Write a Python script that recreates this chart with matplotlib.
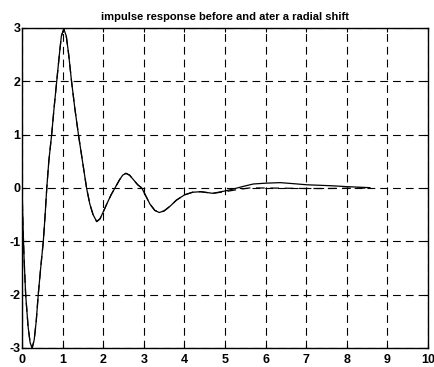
import matplotlib
matplotlib.use("Agg")
import matplotlib.pyplot as plt

# impulse response
t_before = [0, 0.02, 0.05, 0.09, 0.15, 0.2, 0.25, 0.3, 0.35, 0.4, 0.46, 0.525,
            0.57, 0.61, 0.66, 0.73, 0.79, 0.855, 0.92, 0.97, 1.03, 1.09, 1.15,
            1.22, 1.3, 1.39, 1.49, 1.59, 1.67, 1.75, 1.84, 1.92, 2.0, 2.1, 2.2,
            2.29, 2.4, 2.48, 2.56, 2.65, 2.75, 2.85, 2.95, 3.05, 3.15, 3.27,
            3.38, 3.5, 3.65, 3.8, 4.0, 4.2, 4.4, 4.7, 5.04, 5.3, 5.45, 5.7,
            6.0, 6.36, 6.7, 7.01, 7.35, 7.67, 8.0, 8.3, 8.57]
y_before = [0, -0.6, -1.3, -2.0, -2.6, -2.9, -3.0, -2.85, -2.5, -2.0, -1.5, -1.0,
            -0.5, 0.0, 0.5, 1.0, 1.5, 2.0, 2.5, 2.85, 2.98, 2.85, 2.5,
            2.0, 1.5, 1.0, 0.5, 0.0, -0.3, -0.5, -0.63, -0.58, -0.45, -0.28, -0.12,
            0.0, 0.15, 0.24, 0.275, 0.24, 0.15, 0.06, 0.0, -0.15, -0.3, -0.42,
            -0.46, -0.43, -0.34, -0.23, -0.13, -0.08, -0.07, -0.1, -0.05, 0.0, 0.03, 0.075,
            0.09, 0.1, 0.08, 0.06, 0.05, 0.04, 0.025, 0.015, 0.006]

t_after = [0, 0.02, 0.05, 0.09, 0.15, 0.2, 0.25, 0.3, 0.35, 0.4, 0.46, 0.525,
           0.57, 0.61, 0.66, 0.73, 0.79, 0.855, 0.92, 0.97, 1.03, 1.09, 1.15,
           1.22, 1.3, 1.39, 1.49, 1.59, 1.67, 1.75, 1.84, 1.92, 2.0, 2.1, 2.2,
           2.29, 2.4, 2.48, 2.56, 2.65, 2.75, 2.85, 2.95, 3.05, 3.15, 3.27,
           3.38, 3.5, 3.65, 3.8, 4.0, 4.2, 4.4, 4.7, 5.0, 5.3, 5.6, 6.0,
           6.5, 7.0, 7.5, 8.0, 8.57]
y_after = [0, -0.6, -1.3, -2.0, -2.6, -2.9, -3.0, -2.85, -2.5, -2.0, -1.5, -1.0,
           -0.5, 0.0, 0.5, 1.0, 1.5, 2.0, 2.5, 2.85, 2.98, 2.85, 2.5,
           2.0, 1.5, 1.0, 0.5, 0.0, -0.3, -0.5, -0.63, -0.58, -0.45, -0.28, -0.12,
           0.0, 0.15, 0.24, 0.275, 0.24, 0.15, 0.06, 0.0, -0.15, -0.3, -0.42,
           -0.46, -0.43, -0.34, -0.23, -0.13, -0.08, -0.07, -0.1, -0.07, -0.03, 0.0, 0.0,
           -0.005, -0.01, -0.01, -0.005, 0.0]

x_ticks = list(range(0, 11))
y_ticks = list(range(-3, 4))

plt.rcParams["font.family"] = ["Liberation Sans", "DejaVu Sans"]
plt.rcParams["axes.unicode_minus"] = False

fig = plt.figure(figsize=(4.34, 3.67), dpi=100)
ax = fig.add_axes([0.0507, 0.0518, 0.9355, 0.872])

ax.plot(t_before, y_before, color="black", lw=0.9)
ax.plot(t_after, y_after, color="black", lw=0.9, ls=(0, (7, 4.5)))

ax.set_xlim(0, 10)
ax.set_ylim(-3, 3)
ax.set_xticks(x_ticks)
ax.set_yticks(y_ticks)
ax.grid(True, color="black", lw=0.8, ls=(0, (7, 4.5)))

ax.tick_params(direction="in", length=3, width=0.8, top=True, right=True,
               labelsize=9)
ax.tick_params(axis="x", pad=4)
ax.tick_params(axis="y", pad=1)
for lab in ax.get_xticklabels() + ax.get_yticklabels():
    lab.set_fontweight("bold")
for sp in ax.spines.values():
    sp.set_linewidth(1.0)

ax.set_title("impulse response before and ater a radial shift",
             fontsize=8, fontweight="bold", pad=6)

fig.savefig("out.png", dpi=100)
